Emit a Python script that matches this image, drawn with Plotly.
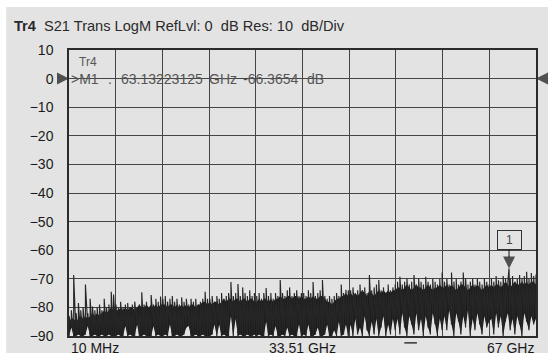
import numpy as np
import plotly.graph_objects as go

# Sweep settings of the S21 transmission trace
START_GHZ = 0.01
STOP_GHZ = 67.0
Y_TOP_DB = 10
Y_BOTTOM_DB = -90
REF_LEVEL_DB = 0

# Marker M1
MARKER_FREQ_GHZ = 63.13223125
MARKER_DB = -66.3654

FREQ_LABELS = ["10 MHz", "33.51 GHz", "67 GHz"]
Y_TICKS = [10, 0, -10, -20, -30, -40, -50, -60, -70, -80, -90]

# Trace, one column per sweep segment (20 per division): spike peak (dB)
PEAK_DB = [
    -83, -81, -68.7, -82, -78.5, -81, -80, -72, -82, -77, -79.7, -81, -80, -79, -81, -77, -80, -79, -74.5, -75.5,
    -79, -80, -78, -80, -79, -78.5, -80, -79, -78, -80, -79, -74.7, -79, -78, -80, -75.7, -79, -77, -78, -76.2,
    -77, -76, -78, -77, -76, -78, -77, -79, -76.5, -78, -77, -79, -77, -78, -77, -79, -78, -77, -74.5, -77,
    -77, -76, -78, -76, -77, -75, -77, -76, -75, -71.1, -76, -75, -71.8, -76, -73, -75, -76, -74, -76, -75,
    -76, -75, -77, -75, -73.2, -76, -75, -77, -75, -76, -70.4, -75, -76, -74, -73, -76, -75, -74, -76, -75,
    -75, -76, -74, -75, -71.1, -76, -75, -74, -70.4, -76, -77, -76, -77, -76, -75, -76, -72, -75, -73.8, -74,
    -74, -73, -75, -74, -72, -74, -73, -75, -68.7, -74, -73, -72, -70.4, -74, -73, -75, -72, -74, -73, -72,
    -71, -69.3, -72, -71, -70, -72, -71, -68.7, -72, -70, -71, -72, -69.3, -71, -72, -70, -71, -72, -70, -67.8,
    -71, -70, -72, -67.8, -71, -70, -72, -71, -67.8, -70, -72, -71, -70, -72, -70, -71, -72, -70, -71, -72,
    -70, -71, -69, -70.5, -71, -69, -70, -71, -70, -69, -71, -70, -68.7, -70, -69, -67.5, -70, -68, -69, -68.5,
]
# top of the dense noise core (dB)
CORE_DB = [
    -85, -84, -84, -85, -84, -83, -84, -83, -84, -83, -82, -83, -82, -83, -82, -81, -82, -81, -80, -81,
    -81, -81, -80, -81, -80, -81, -80, -80, -81, -80, -79, -80, -80, -79, -80, -79, -80, -79, -80, -79,
    -79, -79, -80, -79, -79, -80, -79, -80, -79, -80, -79, -80, -79, -79, -80, -79, -79, -78, -78, -79,
    -78, -79, -78, -78, -79, -78, -77, -78, -77, -77, -78, -77, -77, -78, -77, -77, -78, -77, -77, -78,
    -78, -77, -78, -77, -77, -78, -77, -78, -77, -77, -76, -77, -77, -76, -76, -77, -76, -76, -77, -76,
    -77, -77, -76, -77, -76, -77, -77, -76, -76, -77, -78, -78, -79, -78, -77, -77, -76, -76, -75, -76,
    -75, -76, -75, -76, -75, -74, -75, -76, -74, -75, -76, -75, -74, -75, -74, -75, -74, -75, -74, -74,
    -73, -73, -74, -73, -72, -73, -74, -73, -72, -73, -73, -74, -73, -72, -73, -74, -73, -73, -72, -73,
    -73, -72, -73, -72, -73, -74, -73, -72, -72, -73, -74, -73, -72, -73, -72, -73, -74, -73, -72, -73,
    -72, -73, -72, -72, -73, -72, -71, -72, -73, -72, -71, -72, -72, -71, -72, -71, -72, -71, -71, -72,
]
# lowest excursion of each column (dB)
FLOOR_DB = [
    -90, -87, -90, -90, -89.5, -90, -90, -89.5, -86.5, -90, -90, -89.5, -90, -90, -89.5, -90, -90, -89.5, -90, -90,
    -90, -89.5, -90, -90, -86.5, -90, -89.5, -90, -90, -86, -90, -90, -89.5, -90, -90, -90, -86.5, -90, -89.5, -90,
    -90, -89.5, -90, -86, -90, -90, -89.5, -90, -90, -89.5, -87, -86.5, -90, -90, -89.5, -90, -90, -89.5, -90, -90,
    -90, -89.5, -86, -90, -86, -90, -89.5, -90, -90, -83, -90, -84, -90, -89.5, -90, -90, -89.5, -90, -90, -89.5,
    -90, -89.5, -90, -90, -85, -90, -89.5, -90, -86.5, -90, -90, -89.5, -90, -87, -90, -89.5, -90, -90, -86, -90,
    -89.5, -90, -86, -90, -90, -89.5, -87, -90, -90, -89.5, -86, -90, -90, -88, -90, -85, -90, -89.5, -86, -90,
    -86, -90, -84, -89.5, -87, -90, -83, -88, -90, -85, -89.5, -84, -90, -87, -83, -90, -86, -89.5, -84, -88,
    -84, -89.5, -82, -87, -90, -83, -86, -89.5, -82, -88, -84, -90, -83, -87, -89.5, -82, -86, -90, -84, -88,
    -83, -88, -81, -86, -90, -82, -85, -89.5, -83, -87, -81, -90, -84, -88, -82, -86, -89.5, -83, -87, -85,
    -84, -89.5, -82, -87, -83, -90, -85, -82, -88, -84, -89.5, -83, -86, -90, -82, -85, -88, -83, -86, -84,
]

freq = np.linspace(START_GHZ, STOP_GHZ, len(PEAK_DB))
step = freq[1] - freq[0]

# zig-zag line: floor -> peak at each column, with the marker point spliced in
line_x, line_y = [], []
for f, lo, hi in zip(freq, FLOOR_DB, PEAK_DB):
    line_x += [f, f]
    line_y += [lo, hi]
    if f <= MARKER_FREQ_GHZ < f + step:
        line_x.append(MARKER_FREQ_GHZ)
        line_y.append(MARKER_DB)

INK = "#111111"
GRID = "#454545"
PANEL = "#e3e3e3"
FONT = "Arial, Liberation Sans, sans-serif"

fig = go.Figure()

# dense core of the noise floor
fig.add_trace(go.Scatter(
    x=list(freq) + list(freq[::-1]),
    y=CORE_DB + FLOOR_DB[::-1],
    fill="toself", fillcolor="#1b1b1b", mode="none",
    hoverinfo="skip", showlegend=False,
))
# individual sweep excursions
fig.add_trace(go.Scatter(
    x=line_x, y=line_y, mode="lines",
    line=dict(color="#262626", width=1.15),
    hoverinfo="skip", showlegend=False,
))

# reference-level arrows on both edges, marker arrows
fig.add_trace(go.Scatter(
    x=[START_GHZ, STOP_GHZ, MARKER_FREQ_GHZ, MARKER_FREQ_GHZ],
    y=[REF_LEVEL_DB, REF_LEVEL_DB, MARKER_DB, Y_BOTTOM_DB - 0.7],
    mode="markers",
    marker=dict(symbol=["arrow-right", "arrow-left", "arrow-down", "arrow-up"],
                size=[12, 12, 12, 12], color=INK, line=dict(width=0)),
    cliponaxis=False, hoverinfo="skip", showlegend=False,
))

# grey instrument panel behind everything
fig.add_shape(type="rect", xref="paper", yref="paper",
              x0=-0.1345, x1=1.03, y0=-0.0594, y1=1.150,
              fillcolor=PANEL, line_width=0, layer="below")
# small sweep indicator under the axis
fig.add_shape(type="line", xref="paper", yref="paper",
              x0=0.718, x1=0.745, y0=-0.024, y1=-0.024,
              line=dict(color="#333333", width=1.5))

ann = []
# title bar
ann.append(dict(
    text="<b>Tr4</b>\u00a0 S21 Trans LogM RefLvl: 0 \u00a0dB Res: 10 \u00a0dB/Div",
    xref="paper", yref="paper", x=-0.1217, y=1.085,
    xanchor="left", yanchor="middle", showarrow=False,
    font=dict(family=FONT, size=14.6, color="#2a2a2a"),
))
# trace name inside the grid
ann.append(dict(text="Tr4", xref="paper", yref="paper", x=0.017, y=0.958,
                xanchor="left", yanchor="middle", showarrow=False,
                font=dict(family=FONT, size=12, color="#555555")))
# marker readout on the reference line
readout = [
    (">M1", -0.001), (".", 0.079), (f"{MARKER_FREQ_GHZ:.8f}", 0.1067),
    ("GHz", 0.2946), (f"{MARKER_DB:.4f}", 0.369), ("dB", 0.506),
]
for txt, xp in readout:
    ann.append(dict(text=txt, xref="paper", yref="y", x=xp, y=REF_LEVEL_DB,
                    xanchor="left", yanchor="middle", showarrow=False,
                    font=dict(family=FONT, size=14, color="#555555")))
# marker flag "1"
ann.append(dict(text="1", x=MARKER_FREQ_GHZ, y=MARKER_DB, xref="x", yref="y",
                showarrow=True, arrowhead=0, arrowcolor=INK, arrowwidth=1,
                ax=0, ay=-28, standoff=11,
                bordercolor="#333333", borderwidth=1, borderpad=2,
                bgcolor=PANEL, width=19, height=14,
                font=dict(family=FONT, size=12, color="#444444")))
# stimulus labels
for txt, xv, anchor in zip(FREQ_LABELS,
                           [START_GHZ, (START_GHZ + STOP_GHZ) / 2, STOP_GHZ],
                           ["left", "center", "right"]):
    ann.append(dict(text=txt, x=xv, xref="x", y=0, yref="paper",
                    xanchor=anchor, yanchor="top", yshift=-2, showarrow=False,
                    font=dict(family=FONT, size=14, color="#1a1a1a")))

fig.update_layout(
    width=548, height=356,
    margin=dict(l=69, r=10, t=50, b=20),
    paper_bgcolor="white", plot_bgcolor=PANEL,
    annotations=ann,
    font=dict(family=FONT),
)
fig.update_xaxes(
    range=[START_GHZ, STOP_GHZ], tick0=START_GHZ, dtick=(STOP_GHZ - START_GHZ) / 10,
    showticklabels=False, ticks="", showgrid=True, gridcolor=GRID, gridwidth=1.3,
    zeroline=False, showline=True, mirror=True, linecolor="#2b2b2b", linewidth=1.5,
)
fig.update_yaxes(
    range=[Y_BOTTOM_DB, Y_TOP_DB], tickvals=Y_TICKS, ticks="",
    tickfont=dict(family=FONT, size=14, color="#1a1a1a"), ticklabelstandoff=11,
    showgrid=True, gridcolor=GRID, gridwidth=1.3, zeroline=False,
    showline=True, mirror=True, linecolor="#2b2b2b", linewidth=1.5,
)

fig.write_html("out.html")
